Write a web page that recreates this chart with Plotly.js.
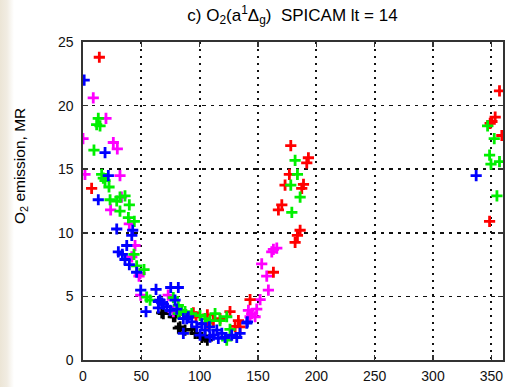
<!DOCTYPE html>
<html>
<head>
<meta charset="utf-8">
<script src="https://cdn.plot.ly/plotly-3.0.1.min.js"></script>
<style>
html,body{margin:0;padding:0;}
body{width:506px;height:387px;background:linear-gradient(to right,#ece5d6 0px,#f1ece2 7px,#ffffff 14px);}
#plot{width:506px;height:387px;}
</style>
</head>
<body>
<div id="plot"></div>
<script>
// Longitude-like x values and O2 emission (MR) per colour group
const redX = [14,7.4,94.6,96.9,106.6,106,111.8,117.5,126,133.2,130.4,134.6,143.2,163.2,167.5,170.4,173.2,176.9,178.1,181.8,183.8,186.1,187.5,189,191.8,193.2,349,350.5,353.3,357,359,348.5];
const redY = [23.8,13.5,3.7,3.4,3.55,2.9,3.1,3.25,3.8,3.1,2.65,2.6,4.75,6.9,11.8,12.2,13.75,14.6,16.85,9.25,9.8,10.2,13.5,13.8,15.5,15.9,18.6,18.75,19.1,21.15,17.65,10.9];

const blueX = [1,18.9,21.7,13.1,28.9,42.6,41.8,37.5,30.3,33.7,36,39.7,46,49.5,62.6,75.2,81.7,66,64.6,67.5,71.8,54,64.6,74.6,68.9,78.9,80.3,86,90.3,88.9,93.2,86,97.5,101.8,104.6,108.3,100.3,108.9,111.8,114.7,119,116,121.8,127.5,131.8,134.6,140.9,140.4,337];
const blueY = [22,16.3,14.5,12.6,10.3,10.2,9.8,9.0,8.5,8.3,7.9,7.5,6.9,5.5,5.55,5.7,5.7,4.7,4.6,4.5,4.2,3.8,4.1,3.9,4.4,4.7,4.0,3.25,3.4,3.25,3.0,2.1,2.6,2.85,2.35,2.6,1.95,1.8,1.95,2.35,2.1,1.7,1.77,1.95,1.77,2.1,3.0,2.9,14.5];

const greenX = [13.1,11.7,14.6,9.4,16,17.4,18.9,22.3,23.2,28.9,31.7,36,39.7,31.7,38.9,44,43.7,46,52.3,54.6,57.5,77.4,81.7,84.6,81.7,87.5,93.2,100.3,104.6,108.9,113.2,117.5,123.2,126,123.2,181.8,183.8,178.1,186.1,179,346.8,352.5,348.5,349.7,357,354.8];
const greenY = [19.0,18.5,18.4,16.5,14.6,14.3,14.1,13.6,12.6,12.5,12.8,12.9,12.2,11.7,11.2,10.9,8.3,7.4,7.1,4.95,4.7,4.9,4.3,3.9,3.65,3.8,3.65,3.5,3.25,3.1,3.65,3.1,3.4,2.4,1.56,15.7,14.6,13.75,12.8,11.6,18.4,17.4,16.1,15.4,15.6,12.9];

const magentaX = [8.8,19.7,0,26,29.4,1.7,31.7,33,23.7,39.7,44.6,41.8,48.9,48,49.5,73,77.4,141.8,144.6,148.9,147.5,143.2,151.8,158.9,157.5,153.2,161.8,163.2,166.1];
const magentaY = [20.6,19.0,17.4,17.1,16.6,14.6,14.5,12.8,11.8,10.7,9.0,8.1,6.8,6.6,5.1,5.1,3.8,3.9,3.65,4.0,3.4,3.4,4.75,5.5,6.6,7.55,8.5,8.7,8.8];

const blackX = [67.5,68.9,77.4,78.9,83.2,81.7,87.5,93.2,96,101.8,106.6,104.6];
const blackY = [3.7,3.65,3.4,3.4,2.6,2.5,2.35,2.4,2.1,1.77,1.56,1.8];

const xTicks = [0,50,100,150,200,250,300,350];
const yTicks = [0,5,10,15,20,25];

function series(x, y, color) {
  return {
    x: x, y: y, type: 'scatter', mode: 'markers', cliponaxis: true,
    marker: {symbol: 'cross-thin-open', size: 8, line: {color: color, width: 2.8}, color: color},
    hoverinfo: 'x+y'
  };
}

const data = [
  series(blackX, blackY, '#000000'),
  series(magentaX, magentaY, '#ff00ff'),
  series(redX, redY, '#ff0000'),
  series(greenX, greenY, '#00f000'),
  series(blueX, blueY, '#0000ff')
];

const font = 'Liberation Sans, Arial, sans-serif';
const axisCommon = {
  showline: true, linecolor: '#333', linewidth: 1.6, mirror: 'ticks',
  ticks: 'inside', ticklen: 5, tickwidth: 1.6, tickcolor: '#333',
  showgrid: true, gridcolor: '#111', gridwidth: 1.7,
  zeroline: false,
  tickfont: {family: font, size: 14, color: '#111'}
};

const layout = {
  width: 506, height: 387,
  paper_bgcolor: 'rgba(0,0,0,0)', plot_bgcolor: '#ffffff',
  margin: {l: 83, r: 3, t: 42, b: 27},
  showlegend: false,
  title: {
    text: 'c) O<sub>2</sub>(a<sup>1</sup>Δ<sub>g</sub>)  SPICAM lt = 14',
    font: {family: font, size: 17, color: '#000'},
    x: 0.578, xanchor: 'center', y: 0.962, yanchor: 'middle'
  },
  xaxis: Object.assign({}, axisCommon, {
    range: [0, 360], tickvals: xTicks, ticktext: xTicks.map(String),
    griddash: '2px,5px', ticklabelstandoff: 3
  }),
  yaxis: Object.assign({}, axisCommon, {
    range: [0, 25], tickvals: yTicks, ticktext: yTicks.map(String),
    griddash: '3.5px,5px', ticklabelstandoff: 5
  }),
  annotations: [{
    text: 'O<sub>2</sub> emission, MR', textangle: -90,
    xref: 'paper', yref: 'paper', x: -0.15, y: 0.61, xanchor: 'center', yanchor: 'middle',
    showarrow: false,
    font: {family: font, size: 15.5, color: '#000'}
  }]
};

Plotly.newPlot('plot', data, layout, {displayModeBar: false, staticPlot: true});
</script>
</body>
</html>
